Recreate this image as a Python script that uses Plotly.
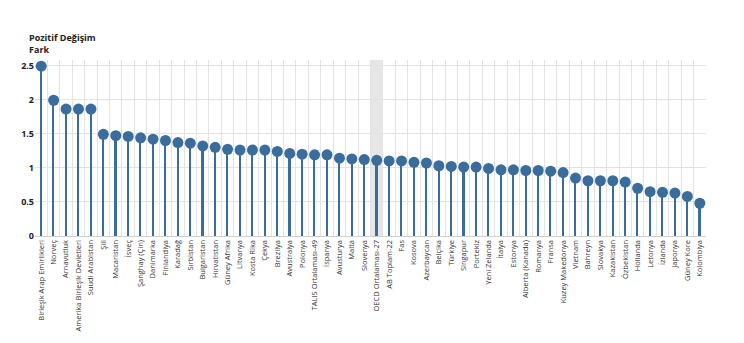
import plotly.graph_objects as go

countries = [
    "Birleşik Arap Emirlikleri", "Norveç", "Arnavutluk", "Amerika Birleşik Devletleri",
    "Suudi Arabistan", "Şili", "Macaristan", "İsveç", "Şanghay (Çin)", "Danimarka",
    "Finlandiya", "Karadağ", "Sırbistan", "Bulgaristan", "Hırvatistan", "Güney Afrika",
    "Litvanya", "Kosta Rika", "Çekya", "Brezilya", "Avustralya", "Polonya",
    "TALIS Ortalaması-49", "İspanya", "Avusturya", "Malta", "Slovenya",
    "OECD Ortalaması-27", "AB Toplam-22", "Fas", "Kosova", "Azerbaycan", "Belçika",
    "Türkiye", "Singapur", "Portekiz", "Yeni Zelanda", "İtalya", "Estonya",
    "Alberta (Kanada)", "Romanya", "Fransa", "Kuzey Makedonya", "Vietnam", "Bahreyn",
    "Slovakya", "Kazakistan", "Özbekistan", "Hollanda", "Letonya", "İzlanda",
    "Japonya", "Güney Kore", "Kolombiya",
]

values = [
    2.49, 1.99, 1.86, 1.86, 1.86, 1.49, 1.47, 1.46, 1.44, 1.42,
    1.40, 1.37, 1.36, 1.32, 1.30, 1.27, 1.26, 1.26, 1.26, 1.24,
    1.21, 1.20, 1.19, 1.19, 1.14, 1.13, 1.12, 1.11, 1.10, 1.10,
    1.08, 1.07, 1.03, 1.02, 1.01, 1.01, 0.99, 0.97, 0.97, 0.96,
    0.96, 0.95, 0.93, 0.85, 0.81, 0.81, 0.81, 0.79, 0.70, 0.65,
    0.64, 0.63, 0.58, 0.48,
]

highlight = "OECD Ortalaması-27"
y_ticks = [0, 0.5, 1, 1.5, 2, 2.5]
y_tick_labels = ["0", "0.5", "1", "1.5", "2", "2.5"]

color = "#3a6d9b"
font_family = "Open Sans, Noto Sans, sans-serif"

fig = go.Figure()

# stems
fig.add_trace(go.Bar(
    x=countries, y=values, width=0.13,
    marker=dict(color=color, line=dict(width=0)),
    hoverinfo="skip", showlegend=False,
))
# heads
fig.add_trace(go.Scatter(
    x=countries, y=values, mode="markers",
    marker=dict(color=color, size=11),
    showlegend=False,
))

hi = countries.index(highlight)
fig.add_shape(
    type="rect", xref="x", yref="paper",
    x0=hi - 0.5, x1=hi + 0.5, y0=0, y1=1,
    fillcolor="rgba(200,200,200,0.45)", line=dict(width=0), layer="below",
)

fig.add_annotation(
    xref="paper", yref="paper", x=-0.012, y=1.175,
    xanchor="left", yanchor="top", align="left", showarrow=False,
    text="Pozitif Değişim<br>Fark",
    font=dict(family=font_family, size=9, color="#222222", weight="bold"),
)

fig.update_layout(
    width=744, height=343,
    margin=dict(l=35, r=38, t=60, b=107),
    paper_bgcolor="white", plot_bgcolor="white",
    bargap=0,
    font=dict(family=font_family),
)
fig.update_xaxes(
    type="category", tickangle=-90, tickson="boundaries",
    showgrid=True, gridcolor="#e3e3e3", gridwidth=1,
    ticks="", tickfont=dict(size=7.5, color="#333333"),
    showline=True, linecolor="#d0d0d0", automargin=False,
    range=[-0.5, len(countries) - 0.5],
)
fig.update_yaxes(
    range=[0, 2.58], tickvals=y_ticks, ticktext=y_tick_labels,
    showgrid=True, gridcolor="#e3e3e3", gridwidth=1,
    zeroline=False, ticks="", automargin=False,
    tickfont=dict(size=9, color="#222222", weight="bold"),
)

fig.write_html("out.html")
